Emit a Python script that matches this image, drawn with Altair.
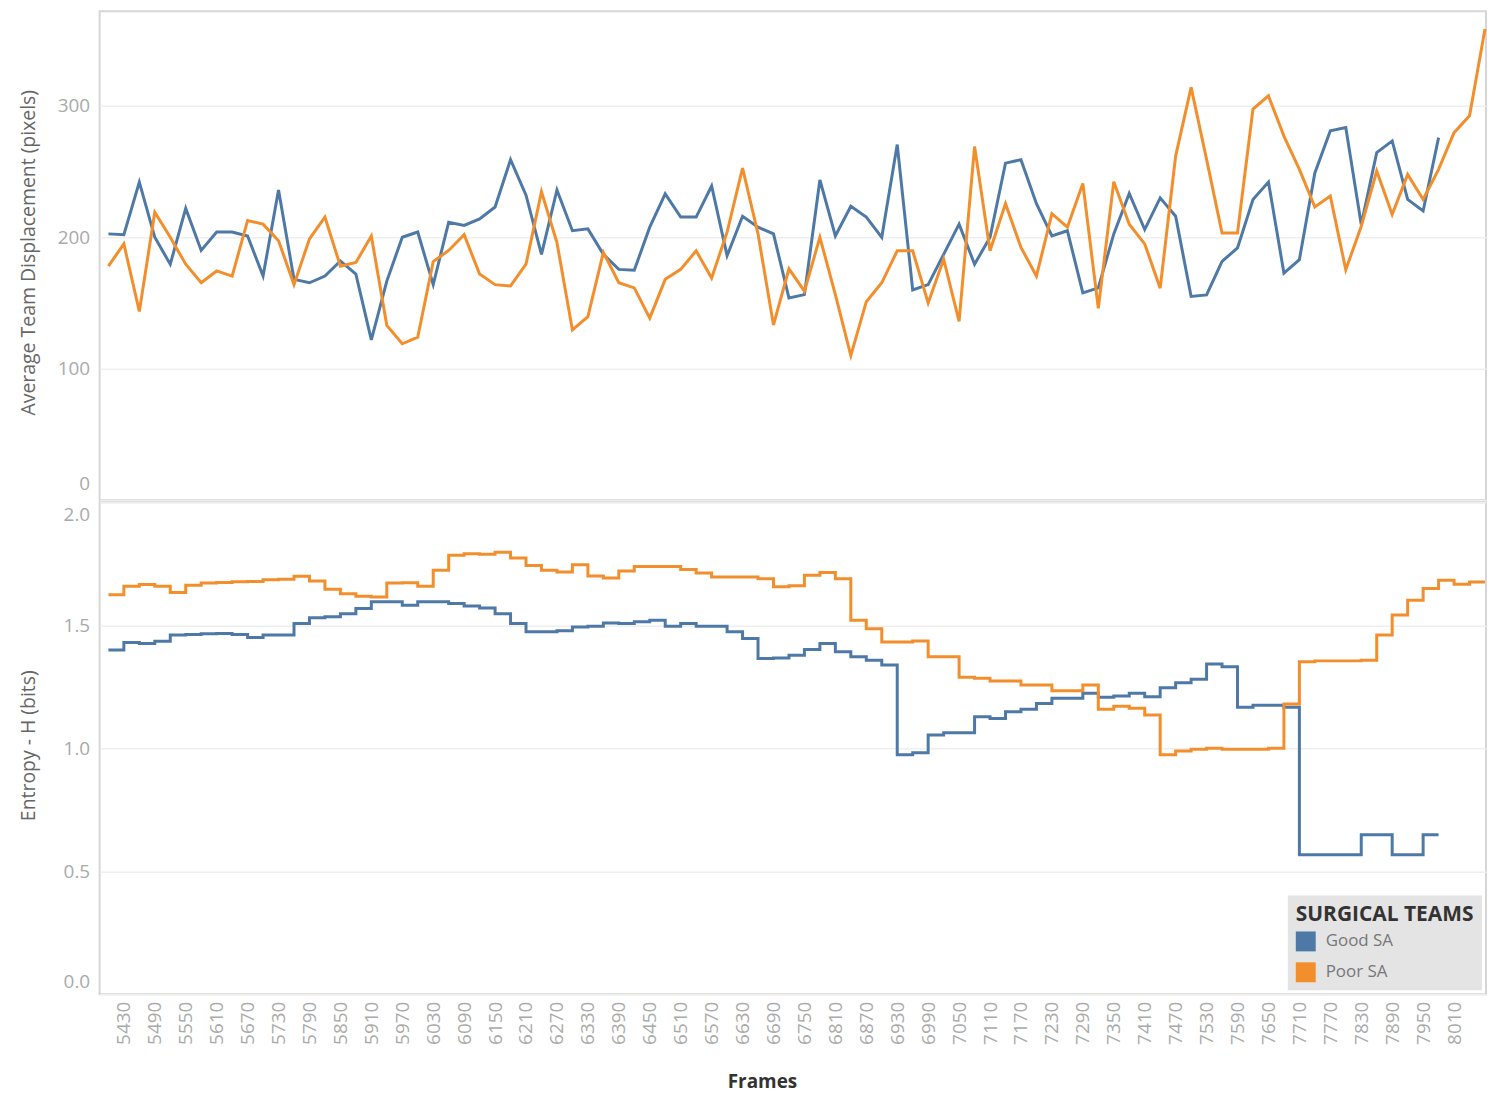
import altair as alt
import pandas as pd

# ---------------- data ----------------
teams = ["Good SA", "Poor SA"]
team_colors = ["#4e79a7", "#f28e2b"]

# frames sampled every 30 frames, 5400 ... 8070
frames = list(range(5400, 8071, 30))
x_tick_values = list(range(5430, 8011, 60))

# Average Team Displacement (pixels)
good_disp = [202.6, 202, 242, 200, 179.5, 222, 190, 204, 204, 201,
             170.5, 236, 168, 165.4, 170.5, 182, 172, 122, 166.7, 200,
             204, 164, 211.5, 209, 214, 223, 259, 232, 187, 236,
             205, 206.4, 187, 175.6, 175, 207.7, 233, 215.4, 215.4, 239,
             186, 216, 207.7, 202.6, 153.8, 156.4, 243.6, 201, 223.6, 215.4,
             200, 270.5, 160, 164, 187, 210, 179.5, 200, 256.4, 259,
             225.6, 201, 205, 157.7, 161.5, 202.6, 233.3, 205.9, 230, 216,
             155, 156.2, 181.7, 191.9, 228.8, 242, 172.8, 183, 249, 281,
             283.5, 209.7, 264.4, 273.3, 228.8, 220, 275.8]

poor_disp = [178, 195, 143.6, 219, 200, 179.5, 165.4, 174.4, 170.5, 212.8,
             210, 197.4, 164, 198.7, 215.4, 178, 180.8, 201, 133, 119,
             124, 181.5, 190, 202, 172, 164, 163, 179.5, 234.6, 196,
             129.5, 139.7, 188.5, 165.4, 161.5, 138.5, 168, 175.6, 189.7, 169,
             204, 252.6, 202.6, 133.3, 176, 159, 200, 156.4, 110, 151,
             165.4, 189.7, 189.7, 150, 183.3, 136, 269, 189.7, 225.6, 192.3,
             170.5, 218, 207.7, 241, 146, 242.3, 210, 195, 161.3, 261.8,
             314, 259.3, 203.3, 203.3, 297.5, 307.6, 277, 251.7, 223, 231.3,
             175.3, 208.4, 250.4, 217.3, 247.8, 228.8, 251.7, 279.6, 292.4, 358.5]

# Entropy - H (bits)
good_entropy = [1.399, 1.43, 1.426, 1.435, 1.46, 1.462, 1.465, 1.466, 1.462, 1.45,
                1.46, 1.46, 1.507, 1.53, 1.534, 1.547, 1.568, 1.595, 1.595, 1.581,
                1.595, 1.595, 1.588, 1.578, 1.57, 1.547, 1.507, 1.473, 1.473, 1.477,
                1.493, 1.496, 1.509, 1.507, 1.514, 1.52, 1.496, 1.507, 1.496, 1.496,
                1.473, 1.446, 1.365, 1.367, 1.378, 1.401, 1.426, 1.392, 1.372, 1.358,
                1.338, 0.973, 0.982, 1.054, 1.063, 1.063, 1.128, 1.121, 1.148, 1.158,
                1.182, 1.203, 1.203, 1.223, 1.207, 1.212, 1.223, 1.209, 1.246, 1.266,
                1.28, 1.342, 1.331, 1.166, 1.175, 1.175, 1.166, 0.567, 0.567, 0.567,
                0.567, 0.648, 0.648, 0.567, 0.567, 0.648, 0.648]

poor_entropy = [1.624, 1.658, 1.665, 1.658, 1.633, 1.662, 1.672, 1.674, 1.677, 1.678,
                1.685, 1.687, 1.699, 1.68, 1.646, 1.628, 1.618, 1.615, 1.672, 1.673,
                1.658, 1.723, 1.784, 1.79, 1.788, 1.797, 1.773, 1.743, 1.723, 1.716,
                1.746, 1.7, 1.692, 1.72, 1.739, 1.739, 1.739, 1.726, 1.712, 1.696,
                1.696, 1.696, 1.689, 1.656, 1.66, 1.703, 1.714, 1.689, 1.52, 1.486,
                1.432, 1.432, 1.436, 1.372, 1.372, 1.288, 1.284, 1.273, 1.273, 1.257,
                1.257, 1.234, 1.234, 1.257, 1.158, 1.171, 1.162, 1.135, 0.973, 0.989,
                0.996, 1.0, 0.996, 0.996, 0.996, 1.0, 1.18, 1.351, 1.355, 1.355,
                1.355, 1.358, 1.46, 1.541, 1.601, 1.649, 1.683, 1.666, 1.676, 1.676]

# ---------------- tables ----------------
def long_table(good, poor, name):
    rows = [{"Frame": f, name: v, "Team": teams[0]} for f, v in zip(frames, good)]
    rows += [{"Frame": f, name: v, "Team": teams[1]} for f, v in zip(frames, poor)]
    return pd.DataFrame(rows)

disp_df = long_table(good_disp, poor_disp, "Displacement")
ent_df = long_table(good_entropy, poor_entropy, "Entropy")

FONT = "Open Sans"
x_scale = alt.Scale(domain=[5383, 8072], nice=False, zero=False)
color_scale = alt.Scale(domain=teams, range=team_colors)

PLOT_W = 1392


def y_axis(values, title, title_y, flush_offset, fmt=None):
    kw = dict(
        values=values, title=title,
        titleAngle=270, titleAlign="center", titleBaseline="middle",
        titleX=-71, titleY=title_y,
        titleFontSize=19.5, titleFontWeight="normal", titleColor="#666666", titleFont=FONT,
        labelFontSize=19, labelColor="#aaaaaa", labelFont=FONT, labelPadding=10,
        labelFlush=True, labelFlushOffset=flush_offset,
        grid=True, gridColor="#efefef", gridWidth=1.5,
        ticks=False, domain=False,
    )
    if fmt:
        kw["format"] = fmt
    return alt.Axis(**kw)


top = alt.Chart(disp_df).mark_line(strokeWidth=3).encode(
    x=alt.X("Frame:Q", scale=x_scale, axis=None),
    y=alt.Y("Displacement:Q", scale=alt.Scale(domain=[0, 372], nice=False),
            axis=y_axis([0, 100, 200, 300], "Average Team Displacement (pixels)", 242, -7)),
    color=alt.Color("Team:N", scale=color_scale, legend=None),
).properties(width=PLOT_W, height=491)

x_bottom = alt.X(
    "Frame:Q", scale=x_scale,
    axis=alt.Axis(
        values=x_tick_values, format="d",
        labelAngle=270, labelFontSize=19, labelColor="#aaaaaa", labelFont=FONT,
        labelPadding=7, labelOverlap=False,
        title="Frames", titleFontSize=19, titleFontWeight="bold", titleColor="#333333",
        titleFont=FONT, titleX=665, titleY=88, titleAlign="center", titleBaseline="middle",
        grid=False, ticks=False, domain=False,
    ),
)
y_bottom = alt.Y("Entropy:Q", scale=alt.Scale(domain=[0, 2], nice=False),
                 axis=y_axis([0, 0.5, 1.0, 1.5, 2.0], "Entropy - H (bits)", 244, -3, ".1f"))

legend = alt.Legend(
    title="SURGICAL TEAMS", orient="bottom-right", offset=4,
    fillColor="#e4e4e4", padding=8,
    titleFont=FONT, titleFontSize=21, titleFontWeight="bold", titleColor="#333333",
    titlePadding=7,
    labelFont=FONT, labelFontSize=17, labelColor="#777777", labelOffset=10,
    symbolType="square", symbolSize=400, symbolStrokeWidth=0, symbolOpacity=1,
    rowPadding=11,
)

# invisible square layer that provides the filled-square legend symbols
legend_layer = alt.Chart(ent_df).mark_square(size=1, opacity=0).encode(
    x=x_bottom, y=y_bottom,
    color=alt.Color("Team:N", scale=color_scale, legend=legend),
)
steps = alt.Chart(ent_df).mark_line(strokeWidth=3, interpolate="step-after").encode(
    x=x_bottom, y=y_bottom,
    color=alt.Color("Team:N", scale=color_scale, legend=None),
)
bottom = alt.layer(legend_layer, steps).properties(width=PLOT_W, height=494)

chart = (
    alt.vconcat(top, bottom, spacing=0)
    .resolve_scale(color="independent")
    .properties(padding={"left": 9, "top": 0, "right": 0, "bottom": 0})
    .configure_view(stroke="#d6d6d6", strokeWidth=2)
)

chart.save("out.html", embed_options={"renderer": "svg", "actions": False})
